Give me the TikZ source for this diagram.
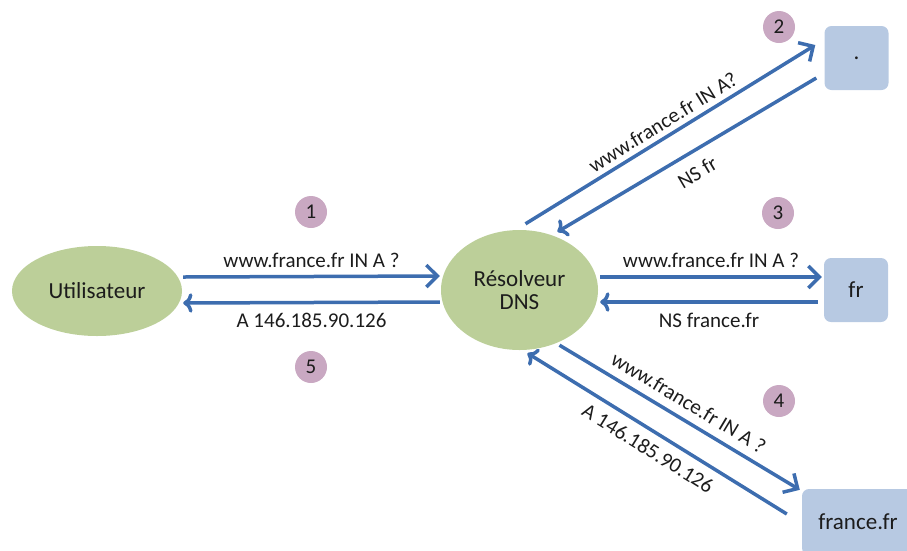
\documentclass[tikz,border=0pt]{standalone}
\usepackage{fontspec}
\setmainfont{Carlito}
\usetikzlibrary{arrows.meta}
\usetikzlibrary{shapes.geometric}
\definecolor{hostgreen}{HTML}{BCCF99}
\definecolor{zoneblue}{HTML}{B7C9E2}
\definecolor{stepmauve}{HTML}{C9A8C2}
\definecolor{msgblue}{HTML}{3D6DAF}
\definecolor{inkgray}{HTML}{1C1C1C}

\begin{document}
\begin{tikzpicture}[x=1pt,y=-1pt,
    host/.style={
% The shape:
ellipse,
% The colour:
fill=hostgreen, text=inkgray,
% The font:
font=\fontsize{23}{26}\selectfont, align=center,
},
    zone/.style={
% The shape:
rectangle, rounded corners=7pt,
% The size:
minimum width=64pt, minimum height=64pt,
% The colour:
fill=zoneblue, text=inkgray,
font=\fontsize{23}{26}\selectfont,
},
    stepnum/.style={
% The shape:
circle,
% The size:
minimum size=32pt, inner sep=0pt,
% The colour:
fill=stepmauve, text=inkgray,
font=\fontsize{21}{21}\selectfont,
},
    msg/.style={
line width=3.5pt, draw=msgblue,
-{Straight Barb[length=11pt,width=22pt,line width=3.5pt]},
},
    lbl/.style={
text=inkgray, font=\fontsize{21}{23}\selectfont,
},
]
  \useasboundingbox (0,0) rectangle (907,550);

  \node[host,minimum width=170pt,minimum height=90pt]   (U) at (97, 291) {Utilisateur};
  \node[host,minimum width=157pt,minimum height=120pt]  (R) at (519.5, 290) {Résolveur\\[-3pt]DNS};
  \node[zone]                                           (root) at (856.5, 58) {.};
  \node[zone]                                           (fr) at (856, 290) {fr};
  \node[zone,minimum width=112pt,minimum height=66pt]   (ff) at (858, 522) {france.fr};

  \node[stepnum] (n1) at (311, 212) {1};
  \node[stepnum] (n2) at (779, 27) {2};
  \node[stepnum] (n3) at (778, 213) {3};
  \node[stepnum] (n4) at (779, 401) {4};
  \node[stepnum] (n5) at (311, 367) {5};

  % user <-> resolver
  \draw [msg] ([xshift=1pt,yshift=14pt]U.east) -- ([xshift=-1pt,yshift=14pt]R.west)
    node[lbl,midway,above=4pt] {www.france.fr IN A ?};
  \draw [msg,<-] ([xshift=1pt,yshift=-12pt]U.east) -- ([xshift=-1pt,yshift=-12pt]R.west)
    node[lbl,midway,below=6pt] {A 146.185.90.126};

  % resolver <-> root
  \draw [msg] ([xshift=6pt,yshift=6pt]R.north) -- ([xshift=-9pt,yshift=13pt]root.west)
    node[lbl,midway,above=2pt,sloped] {www.france.fr IN A?};
  \draw [msg,<-] ([xshift=38pt,yshift=-2pt]R.north) -- ([xshift=-8pt,yshift=-20pt]root.west)
    node[lbl,midway,below=8pt,sloped] {NS fr};

  % resolver <-> fr
  \draw [msg] ([xshift=2pt,yshift=13pt]R.east) -- ([xshift=-2pt,yshift=13pt]fr.west)
    node[lbl,midway,above=4pt] {www.france.fr IN A ?};
  \draw [msg,<-] ([xshift=2pt,yshift=-12pt]R.east) -- ([xshift=-6pt,yshift=-12pt]fr.west)
    node[lbl,midway,below=6pt] {NS france.fr};

  % resolver <-> france.fr
  \draw [msg] ([xshift=40pt,yshift=5pt]R.south) -- ([xshift=-2pt,yshift=-1pt]ff.north west)
    node[lbl,midway,above=5pt,sloped] {www.france.fr IN A ?};
  \draw [msg,<-] ([xshift=8pt,yshift=-3pt]R.south) -- ([xshift=-15pt,yshift=8pt]ff.west)
    node[lbl,midway,below=5pt,sloped] {A 146.185.90.126};

\end{tikzpicture}
\end{document}
